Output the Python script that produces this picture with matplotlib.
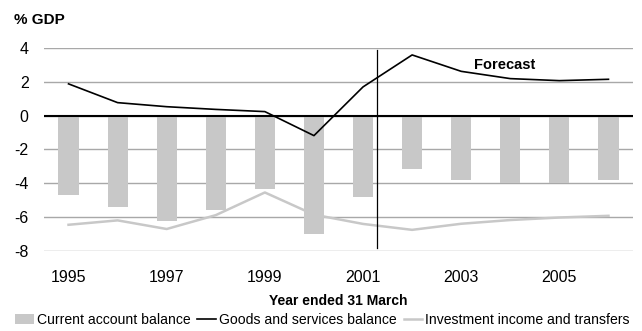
import numpy as np
import matplotlib.pyplot as plt

plt.rcParams['font.family'] = ['Liberation Sans', 'DejaVu Sans']
plt.rcParams['axes.unicode_minus'] = False

# current account components, % of GDP, years ended 31 March
years = [1995, 1996, 1997, 1998, 1999, 2000, 2001, 2002, 2003, 2004, 2005, 2006]
current_account = [-4.7, -5.4, -6.2, -5.6, -4.35, -7.0, -4.8, -3.15, -3.8, -4.0, -4.0, -3.8]
goods_services = [1.88, 0.77, 0.53, 0.37, 0.24, -1.18, 1.70, 3.59, 2.62, 2.19, 2.07, 2.15]
investment_income = [-6.45, -6.19, -6.70, -5.88, -4.54, -5.85, -6.40, -6.75, -6.39, -6.17, -6.02, -5.92]
tick_years = [1995, 1997, 1999, 2001, 2003, 2005]
forecast_start = 6.29  # boundary between actuals and forecast

x = np.arange(len(years))

fig = plt.figure(figsize=(6.42, 3.31), dpi=100)
ax = fig.add_axes([0.0685, 0.2417, 0.9175, 0.6133])

bars = ax.bar(x, current_account, width=0.41, color='#c8c8c8', zorder=2)
gs_line, = ax.plot(x, goods_services, color='black', lw=1.2, zorder=3)
inv_line, = ax.plot(x, investment_income, color='#c8c8c8', lw=1.8, zorder=3)

ax.axhline(0, color='black', lw=1.5, zorder=4)
ax.plot([forecast_start, forecast_start], [-7.8, 3.9], color='black', lw=0.9, zorder=4)
ax.text(8.27, 3.0, 'Forecast', fontsize=10.5, fontweight='bold', ha='left', va='center')

ax.set_xlim(-0.5, len(years) - 0.5)
ax.set_ylim(-8, 4)
ax.set_yticks(range(-8, 5, 2))
ax.set_xticks([years.index(y) for y in tick_years])
ax.set_xticklabels([str(y) for y in tick_years])
ax.tick_params(length=0, labelsize=11.5)
ax.tick_params(axis='y', pad=11)
ax.tick_params(axis='x', pad=14)
ax.yaxis.grid(True, color='#a8a8a8', lw=1.0, zorder=0)
for s in ax.spines.values():
    s.set_visible(False)

ax.set_xlabel('Year ended 31 March', fontsize=10, fontweight='bold', labelpad=6)
fig.text(0.022, 0.94, '% GDP', fontsize=11, fontweight='bold', ha='left', va='center')

fig.legend([bars, gs_line, inv_line],
           ['Current account balance', 'Goods and services balance',
            'Investment income and transfers'],
           loc='lower center', bbox_to_anchor=(0.502, -0.004), ncol=3, frameon=False,
           fontsize=10.1, handlelength=1.35, handleheight=0.75, handletextpad=0.2,
           columnspacing=0.5, borderaxespad=0)

fig.savefig('out.png', dpi=100)
